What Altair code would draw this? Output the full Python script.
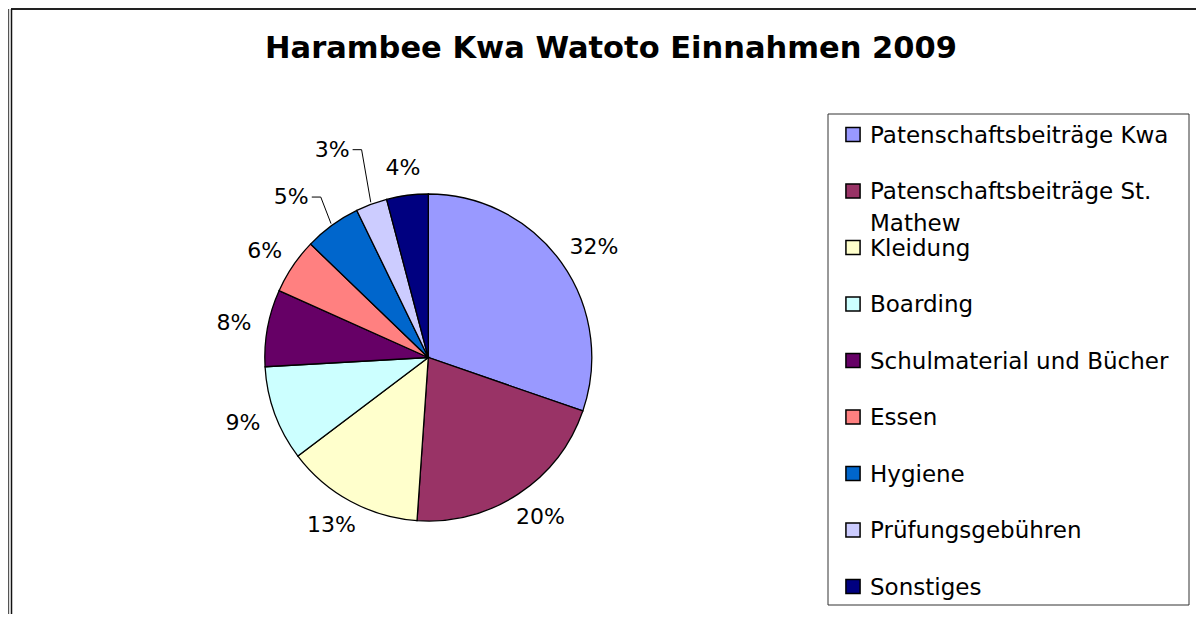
import json
import altair as alt
import pandas as pd

TITLE = "Harambee Kwa Watoto Einnahmen 2009"

categories = [
    "Patenschaftsbeiträge Kwa",
    "Patenschaftsbeiträge St. Mathew",
    "Kleidung",
    "Boarding",
    "Schulmaterial und Bücher",
    "Essen",
    "Hygiene",
    "Prüfungsgebühren",
    "Sonstiges",
]
shares = [30.3, 20.8, 13.6, 9.4, 7.6, 5.5, 5.6, 3.1, 4.1]
# data labels as printed on the chart
pct_labels = ["32%", "20%", "13%", "9%", "8%", "6%", "5%", "3%", "4%"]
legend_text = [
    "Patenschaftsbeiträge Kwa",
    "Patenschaftsbeiträge St.\nMathew",
    "Kleidung",
    "Boarding",
    "Schulmaterial und Bücher",
    "Essen",
    "Hygiene",
    "Prüfungsgebühren",
    "Sonstiges",
]
colors = ["#9999FF", "#993366", "#FFFFCC", "#CCFFFF", "#660066",
          "#FF8080", "#0066CC", "#CCCCFF", "#000080"]
leader_cats = ["Hygiene", "Prüfungsgebühren"]

FONT = "DejaVu Sans"
W, H = 1188, 606
CX, CY, R = 420.3, 349.5, 163.5

df = pd.DataFrame({
    "idx": list(range(len(categories))),
    "cat": categories,
    "share": shares,
    "lab": pct_labels,
    "ltext": legend_text,
})
one = pd.DataFrame({"k": [0]})

color = alt.Color("cat:N", scale=alt.Scale(domain=categories, range=colors), legend=None)

base = (
    alt.Chart(df)
    .transform_joinaggregate(total="sum(share)")
    .transform_window(cum="sum(share)", sort=[alt.SortField("idx", order="ascending")], frame=[None, 0])
    .transform_calculate(mid="2*PI*(datum.cum - datum.share/2)/datum.total")
    .transform_calculate(s="sin(datum.mid)")
    .transform_calculate(c="cos(datum.mid)")
    .transform_calculate(hw="6*length(datum.lab)+5.5")
    .transform_calculate(lead=f"indexof({json.dumps(leader_cats)}, datum.cat) >= 0")
    .transform_calculate(lr="datum.cat == 'Prüfungsgebühren' ? 229 : 211")
    .transform_calculate(ma="datum.lead ? datum.mid - PI/40 : datum.mid")
    .transform_calculate(lx=f"datum.lead ? {CX} + datum.lr*sin(datum.ma) : {CX} + (180 + datum.hw)*datum.s")
    .transform_calculate(ly=f"datum.lead ? {CY} - datum.lr*cos(datum.ma) : {CY} - 191*datum.c")
)

# outer frame
frame_top = alt.Chart(one).mark_rule(stroke="#222222", strokeWidth=2).encode(
    x=alt.value(3), x2=alt.value(W), y=alt.value(1), y2=alt.value(1))
frame_left = alt.Chart(one).mark_rule(stroke="#111111", strokeWidth=1.5).encode(
    x=alt.value(3.5), x2=alt.value(3.5), y=alt.value(1), y2=alt.value(H))
frame_outer = alt.Chart(one).mark_rule(stroke="#555555", strokeWidth=1.2).encode(
    x=alt.value(0.6), x2=alt.value(0.6), y=alt.value(1), y2=alt.value(H))

title = alt.Chart(pd.DataFrame({"t": [TITLE]})).mark_text(
    font=FONT, fontSize=30.5, fontWeight="bold", align="center", baseline="alphabetic", color="black"
).encode(text="t:N", x=alt.value(603), y=alt.value(50))

pie = alt.Chart(df).mark_arc(outerRadius=R, stroke="black", strokeWidth=1.3).encode(
    theta=alt.Theta("share:Q", stack=True),
    order=alt.Order("idx:Q", sort="ascending"),
    color=color,
    x=alt.value(CX), y=alt.value(CY),
)

labels = base.mark_text(font=FONT, fontSize=22, align="center", baseline="middle", color="black").encode(
    x=alt.X("lx:Q", scale=None, axis=None),
    y=alt.Y("ly:Q", scale=None, axis=None),
    text="lab:N",
)

lead_base = (
    base.transform_filter("datum.lead")
    .transform_calculate(ex=f"{CX} + {R + 2}*datum.s")
    .transform_calculate(ey=f"{CY} - {R + 2}*datum.c")
    .transform_calculate(kx="datum.lx + datum.hw + 12")
    .transform_calculate(tx="datum.lx + datum.hw + 3")
)
lead_diag = lead_base.mark_rule(stroke="black", strokeWidth=1).encode(
    x=alt.X("ex:Q", scale=None, axis=None), y=alt.Y("ey:Q", scale=None, axis=None),
    x2="kx:Q", y2="ly:Q")
lead_horiz = lead_base.mark_rule(stroke="black", strokeWidth=1).encode(
    x=alt.X("tx:Q", scale=None, axis=None), y=alt.Y("ly:Q", scale=None, axis=None),
    x2="kx:Q", y2="ly:Q")

# legend (drawn by hand to match the boxed, wrapped Excel legend)
legend_box = alt.Chart(one).mark_rect(fill="white", stroke="#333333", strokeWidth=1).encode(
    x=alt.value(820), x2=alt.value(1181), y=alt.value(106), y2=alt.value(597))

leg = (
    alt.Chart(df)
    .transform_calculate(ry="126.5 + 56.5*datum.idx")
    .transform_calculate(ty="datum.ry + 8")
    .transform_calculate(lines="split(datum.ltext, '\\n')")
)
leg_sym = leg.mark_square(size=200, stroke="black", strokeWidth=1.5, opacity=1).encode(
    x=alt.value(845), y=alt.Y("ry:Q", scale=None, axis=None), fill=color)
leg_txt = leg.mark_text(font=FONT, fontSize=23, align="left", baseline="alphabetic",
                        lineHeight=31.5, color="black").encode(
    x=alt.value(862), y=alt.Y("ty:Q", scale=None, axis=None), text="lines:N")

chart = alt.layer(
    frame_outer, frame_top, frame_left, title, pie, lead_diag, lead_horiz, labels,
    legend_box, leg_sym, leg_txt,
).properties(
    width=W, height=H, autosize=alt.AutoSizeParams(type="none"), padding=0, background="white"
).configure_view(strokeWidth=0)

chart.save("out.html", embed_options={"renderer": "svg", "actions": False})
